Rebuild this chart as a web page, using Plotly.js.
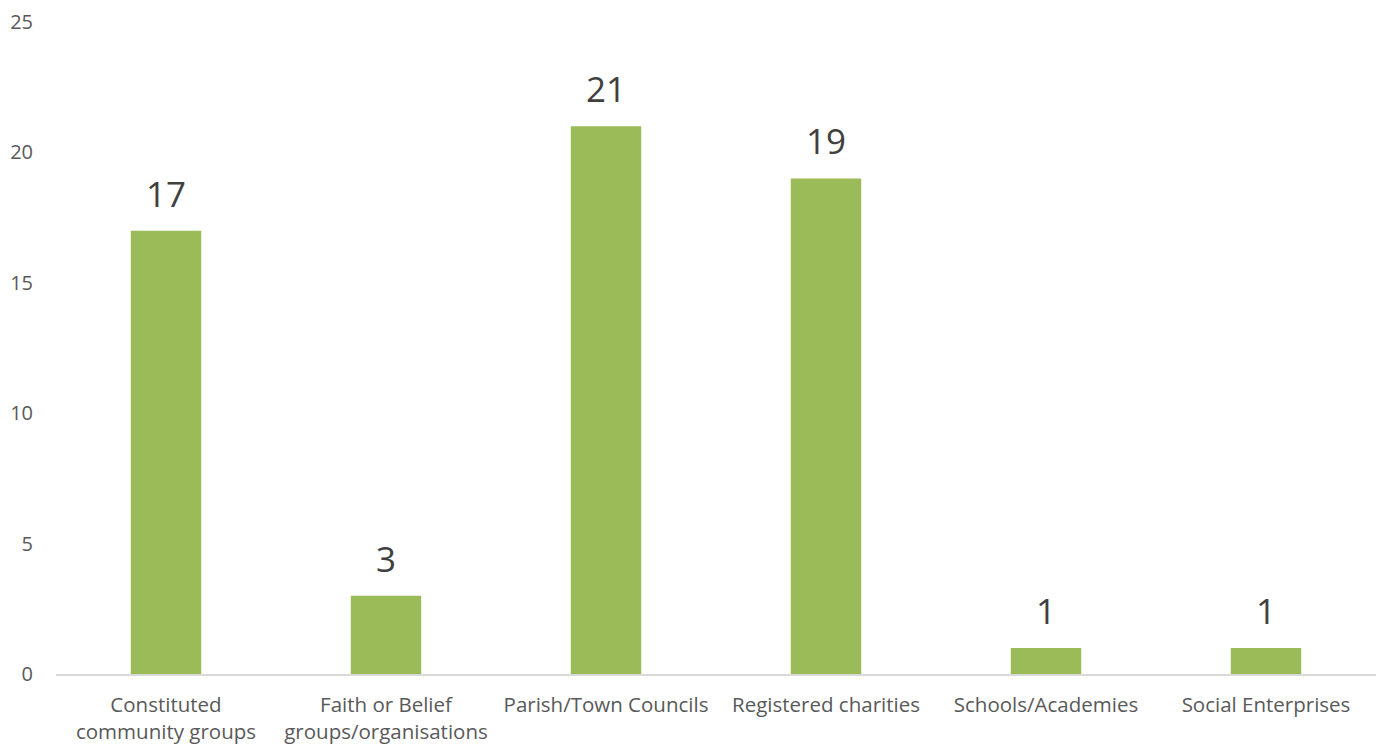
<!DOCTYPE html>
<html>
<head>
<meta charset="utf-8">
<script src="https://cdn.plot.ly/plotly-3.0.1.min.js"></script>
<style>html,body{margin:0;padding:0;background:#fff;}#chart{width:1384px;height:744px;}</style>
</head>
<body>
<div id="chart"></div>
<script>
const categories = ["Constituted<br>community groups", "Faith or Belief<br>groups/organisations", "Parish/Town Councils", "Registered charities", "Schools/Academies", "Social Enterprises"];
const values = [17, 3, 21, 19, 1, 1];
const yTicks = [0, 5, 10, 15, 20, 25];

const trace = {
  type: 'bar',
  x: categories,
  y: values,
  marker: {color: '#9BBB59'},
  hoverinfo: 'x+y'
};

const annotations = categories.map((c, i) => ({
  x: c, y: values[i], xref: 'x', yref: 'y',
  text: String(values[i]), showarrow: false,
  yanchor: 'bottom', yshift: 12,
  font: {family: 'Open Sans, sans-serif', size: 35, color: '#404040'}
}));

const layout = {
  width: 1384, height: 744,
  margin: {l: 56, r: 8, t: 22, b: 70},
  paper_bgcolor: '#fff', plot_bgcolor: '#fff',
  bargap: 0.68,
  showlegend: false,
  font: {family: 'Open Sans, sans-serif', color: '#595959'},
  xaxis: {
    type: 'category',
    showline: true, linecolor: '#D9D9D9', linewidth: 1.5,
    ticks: '', showgrid: false, zeroline: false,
    ticklabelstandoff: 12,
    tickfont: {size: 20.5, color: '#595959'},
    automargin: false
  },
  yaxis: {
    range: [0, 25],
    tickvals: yTicks,
    showgrid: false, zeroline: false, showline: false,
    ticks: '', ticklabelstandoff: 22,
    tickfont: {size: 20, color: '#595959'},
    automargin: false
  },
  annotations: annotations
};

Plotly.newPlot('chart', [trace], layout, {displayModeBar: false, staticPlot: true});
</script>
</body>
</html>
